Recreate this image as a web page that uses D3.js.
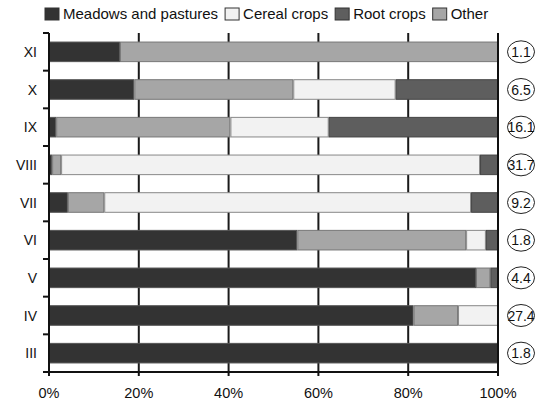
<!DOCTYPE html>
<html>
<head>
<meta charset="utf-8">
<script src="https://cdn.jsdelivr.net/npm/d3@7"></script>
<style>
  body { margin: 0; background: #fff; }
  text { font-family: "Liberation Sans", Arial, sans-serif; fill: #111; }
</style>
</head>
<body>
<div id="chart"></div>
<script>
const categories = ["XI", "X", "IX", "VIII", "VII", "VI", "V", "IV", "III"];
const meadows = [15.8, 19.0, 1.6, 0.7, 4.2, 55.3, 95.1, 81.2, 100];
const other   = [84.2, 35.4, 38.8, 2.0, 8.1, 37.6, 3.2, 9.9, 0];
const cereal  = [0, 22.8, 21.9, 93.3, 81.7, 4.4, 0, 8.9, 0];
const root    = [0, 22.8, 37.7, 4.0, 6.0, 2.7, 1.7, 0, 0];
const shares  = [1.1, 6.5, 16.1, 31.7, 9.2, 1.8, 4.4, 27.4, 1.8];
const xTicks  = [0, 20, 40, 60, 80, 100];

const legendItems = [
  {key: "meadows", label: "Meadows and pastures"},
  {key: "cereal",  label: "Cereal crops"},
  {key: "root",    label: "Root crops"},
  {key: "other",   label: "Other"}
];
const colors = {meadows: "#333333", cereal: "#f2f2f2", root: "#5e5e5e", other: "#a6a6a6"};
const strokes = {meadows: "#555", cereal: "#888", root: "#444", other: "#777"};

const width = 539, height = 401;
const margin = {top: 33, right: 41, bottom: 29, left: 49};

const svg = d3.select("#chart").append("svg")
  .attr("width", width)
  .attr("height", height);

const rows = categories.map((c, i) => ({
  cat: c, meadows: meadows[i], other: other[i], cereal: cereal[i], root: root[i], share: shares[i]
}));

const stack = d3.stack().keys(["meadows", "other", "cereal", "root"]);
const series = stack(rows);

const x = d3.scaleLinear().domain([0, 100]).range([margin.left, width - margin.right]);
const y = d3.scaleBand().domain(categories)
  .range([margin.top, height - margin.bottom])
  .paddingInner(0.48).paddingOuter(0.24);

const plotTop = margin.top, plotBottom = height - margin.bottom;

// vertical grid lines
svg.append("g")
  .selectAll("line")
  .data(xTicks.slice(1))
  .join("line")
  .attr("x1", d => x(d)).attr("x2", d => x(d))
  .attr("y1", plotTop).attr("y2", plotBottom)
  .attr("stroke", "#1a1a1a")
  .attr("stroke-width", 2);

// bars
svg.append("g")
  .selectAll("g")
  .data(series)
  .join("g")
  .attr("fill", d => colors[d.key])
  .attr("stroke", d => strokes[d.key])
  .selectAll("rect")
  .data(d => d.filter(s => s[1] - s[0] > 0))
  .join("rect")
  .attr("x", d => x(d[0]) + 0.5)
  .attr("y", d => y(d.data.cat))
  .attr("width", d => Math.max(0, x(d[1]) - x(d[0]) - 1))
  .attr("height", y.bandwidth());

// left axis
const step = y.step();
const yAxis = svg.append("g");
yAxis.append("line")
  .attr("x1", margin.left).attr("x2", margin.left)
  .attr("y1", plotTop).attr("y2", plotBottom + 4)
  .attr("stroke", "#111").attr("stroke-width", 2);
yAxis.selectAll(".tk")
  .data(d3.range(categories.length + 1))
  .join("line")
  .attr("class", "tk")
  .attr("x1", margin.left - 6).attr("x2", margin.left)
  .attr("y1", i => plotTop + i * (plotBottom - plotTop) / categories.length)
  .attr("y2", i => plotTop + i * (plotBottom - plotTop) / categories.length)
  .attr("stroke", "#111").attr("stroke-width", 2);
yAxis.selectAll("text")
  .data(categories)
  .join("text")
  .attr("x", 37)
  .attr("y", d => y(d) + y.bandwidth() / 2)
  .attr("dy", "0.36em")
  .attr("text-anchor", "end")
  .attr("font-size", 14)
  .text(d => d);

// bottom axis
const xAxis = svg.append("g");
xAxis.append("line")
  .attr("x1", margin.left - 6).attr("x2", x(100))
  .attr("y1", plotBottom).attr("y2", plotBottom)
  .attr("stroke", "#111").attr("stroke-width", 2);
xAxis.selectAll(".tk")
  .data(xTicks)
  .join("line")
  .attr("class", "tk")
  .attr("x1", d => x(d)).attr("x2", d => x(d))
  .attr("y1", plotBottom).attr("y2", plotBottom + 4)
  .attr("stroke", "#111").attr("stroke-width", 2);
xAxis.selectAll("text")
  .data(xTicks)
  .join("text")
  .attr("x", d => x(d))
  .attr("y", 398)
  .attr("text-anchor", "middle")
  .attr("font-size", 14.5)
  .text(d => d + "%");

// right edge line at 100%
svg.append("line")
  .attr("x1", x(100)).attr("x2", x(100))
  .attr("y1", plotTop).attr("y2", plotBottom + 4)
  .attr("stroke", "#111").attr("stroke-width", 2);

// share ellipses
const ell = svg.append("g")
  .selectAll("g")
  .data(rows)
  .join("g")
  .attr("transform", d => `translate(521,${y(d.cat) + y.bandwidth() / 2})`);
ell.append("ellipse")
  .attr("rx", 13.5).attr("ry", 11)
  .attr("fill", "#fff")
  .attr("stroke", "#222").attr("stroke-width", 1);
ell.append("text")
  .attr("text-anchor", "middle")
  .attr("dy", "0.36em")
  .attr("font-size", 14)
  .text(d => d.share);

// legend
const legend = svg.append("g").attr("transform", "translate(45,14)");
let lx = 0;
legendItems.forEach(item => {
  legend.append("rect")
    .attr("x", lx).attr("y", -6)
    .attr("width", 14).attr("height", 12)
    .attr("fill", colors[item.key])
    .attr("stroke", "#333");
  const t = legend.append("text")
    .attr("x", lx + 18)
    .attr("dy", "0.36em")
    .attr("font-size", 15)
    .text(item.label);
  lx += 18 + t.node().getComputedTextLength() + 7;
});
</script>
</body>
</html>
